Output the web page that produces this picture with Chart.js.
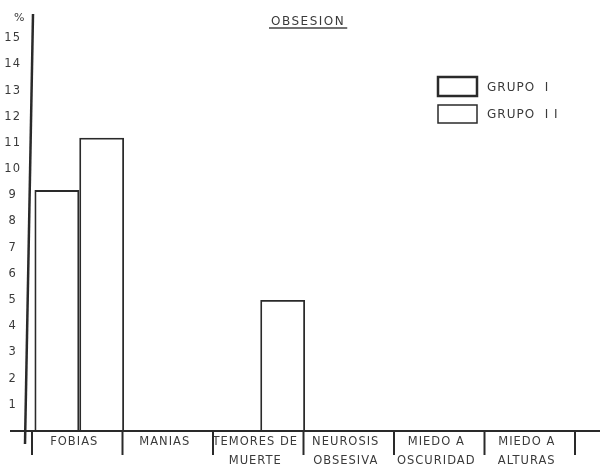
<!DOCTYPE html>
<html>
<head>
<meta charset="utf-8">
<script src="https://cdn.jsdelivr.net/npm/chart.js@4/dist/chart.umd.min.js"></script>
<style>
  html, body { margin: 0; padding: 0; background: #fff; }
  #wrap { width: 600px; height: 474px; }
</style>
</head>
<body>
<div id="wrap"><canvas id="c" width="600" height="474"></canvas></div>
<script>
// Categories and percentages per group
const categories = [
  ['FOBIAS'],
  ['MANIAS'],
  ['TEMORES DE', 'MUERTE'],
  ['NEUROSIS', 'OBSESIVA'],
  ['MIEDO A', 'OSCURIDAD'],
  ['MIEDO A', 'ALTURAS']
];
const grupoI  = [9.2, null, null, null, null, null];
const grupoII = [11.2, null, 5.0, null, null, null];
const seriesNames = ['GRUPO  I', 'GRUPO  I I'];
const chartTitle = 'OBSESION';
const axisUnit = '%';

const INK = '#2a2a2a';
const TEXT = '#3a3a3a';
const FONT = 'DejaVu Sans';

// Hand-drawn style extras: axis extensions, category separators, title, legend
const decorations = {
  id: 'decorations',
  beforeDraw(chart) {
    chart.ctx.letterSpacing = '1px';
  },
  afterDraw(chart) {
    const ctx = chart.ctx;
    const x = chart.scales.x;
    const area = chart.chartArea;
    ctx.save();
    ctx.letterSpacing = '0px';
    ctx.strokeStyle = INK;

    // x axis extended on both sides
    ctx.lineWidth = 2;
    ctx.beginPath();
    ctx.moveTo(10, area.bottom);
    ctx.lineTo(600, area.bottom);
    ctx.stroke();

    // y axis, leaning slightly and running past the baseline
    ctx.lineWidth = 2.5;
    ctx.beginPath();
    ctx.moveTo(area.left - 1, 14);
    ctx.lineTo(area.left - 9, area.bottom + 13);
    ctx.stroke();

    // category separators below the axis
    const n = categories.length;
    const step = x.width / n;
    ctx.lineWidth = 2;
    for (let i = 0; i <= n; i++) {
      const px = x.left + i * step - 2;
      ctx.beginPath();
      ctx.moveTo(px, area.bottom);
      ctx.lineTo(px, area.bottom + 24);
      ctx.stroke();
    }

    // title, underlined
    ctx.letterSpacing = '1.5px';
    ctx.fillStyle = TEXT;
    ctx.font = '12px "' + FONT + '"';
    ctx.textBaseline = 'alphabetic';
    ctx.textAlign = 'left';
    ctx.fillText(chartTitle, 271, 25);
    const tw = ctx.measureText(chartTitle).width;
    ctx.lineWidth = 1.5;
    ctx.strokeStyle = '#444';
    ctx.beginPath();
    ctx.moveTo(269, 28);
    ctx.lineTo(271 + tw + 2, 28);
    ctx.stroke();

    // unit mark above the y axis
    ctx.letterSpacing = '0px';
    ctx.font = '11px "' + FONT + '"';
    ctx.fillText(axisUnit, 14, 21);

    // legend
    const boxes = [
      { y: 77, h: 19, w: 2.5 },
      { y: 105, h: 18, w: 1.5 }
    ];
    ctx.font = '12px "' + FONT + '"';
    ctx.letterSpacing = '1px';
    ctx.textBaseline = 'middle';
    boxes.forEach((b, i) => {
      ctx.lineWidth = b.w;
      ctx.strokeStyle = INK;
      ctx.strokeRect(438, b.y, 39, b.h);
      ctx.fillStyle = TEXT;
      ctx.fillText(seriesNames[i], 487, b.y + b.h / 2 + 1);
    });
    ctx.restore();
  }
};

new Chart(document.getElementById('c'), {
  type: 'bar',
  data: {
    labels: categories,
    datasets: [
      {
        label: seriesNames[0],
        data: grupoI,
        backgroundColor: 'rgba(255,255,255,0)',
        borderColor: INK,
        borderWidth: 1.8,
        borderSkipped: 'bottom',
        categoryPercentage: 0.99,
        barPercentage: 1.0
      },
      {
        label: seriesNames[1],
        data: grupoII,
        backgroundColor: 'rgba(255,255,255,0)',
        borderColor: INK,
        borderWidth: 1.8,
        borderSkipped: 'bottom',
        categoryPercentage: 0.99,
        barPercentage: 1.0
      }
    ]
  },
  options: {
    responsive: false,
    animation: false,
    devicePixelRatio: 1,
    layout: { padding: { top: 12, right: 23, left: 0, bottom: 0 } },
    plugins: {
      legend: { display: false },
      title: { display: false },
      tooltip: { enabled: false }
    },
    scales: {
      x: {
        grid: { display: false, drawTicks: false },
        border: { display: false },
        ticks: {
          color: TEXT,
          font: { family: FONT, size: 11.5, lineHeight: 1.6 },
          padding: 2,
          labelOffset: -5,
          maxRotation: 0,
          autoSkip: false
        },
        afterFit(scale) {
          scale.height = 43;
          scale.paddingLeft = 0;
          scale.paddingRight = 0;
        }
      },
      y: {
        min: 0,
        max: 16,
        grid: { display: false, drawTicks: false },
        border: { display: false },
        ticks: {
          stepSize: 1,
          color: TEXT,
          font: { family: FONT, size: 11.5 },
          padding: 14,
          crossAlign: 'center',
          callback: (v) => (v >= 1 && v <= 15 ? String(v) : '')
        },
        afterFit(scale) {
          scale.width = 34;
          scale.paddingTop = 0;
          scale.paddingBottom = 0;
        }
      }
    }
  },
  plugins: [decorations]
});
</script>
</body>
</html>
